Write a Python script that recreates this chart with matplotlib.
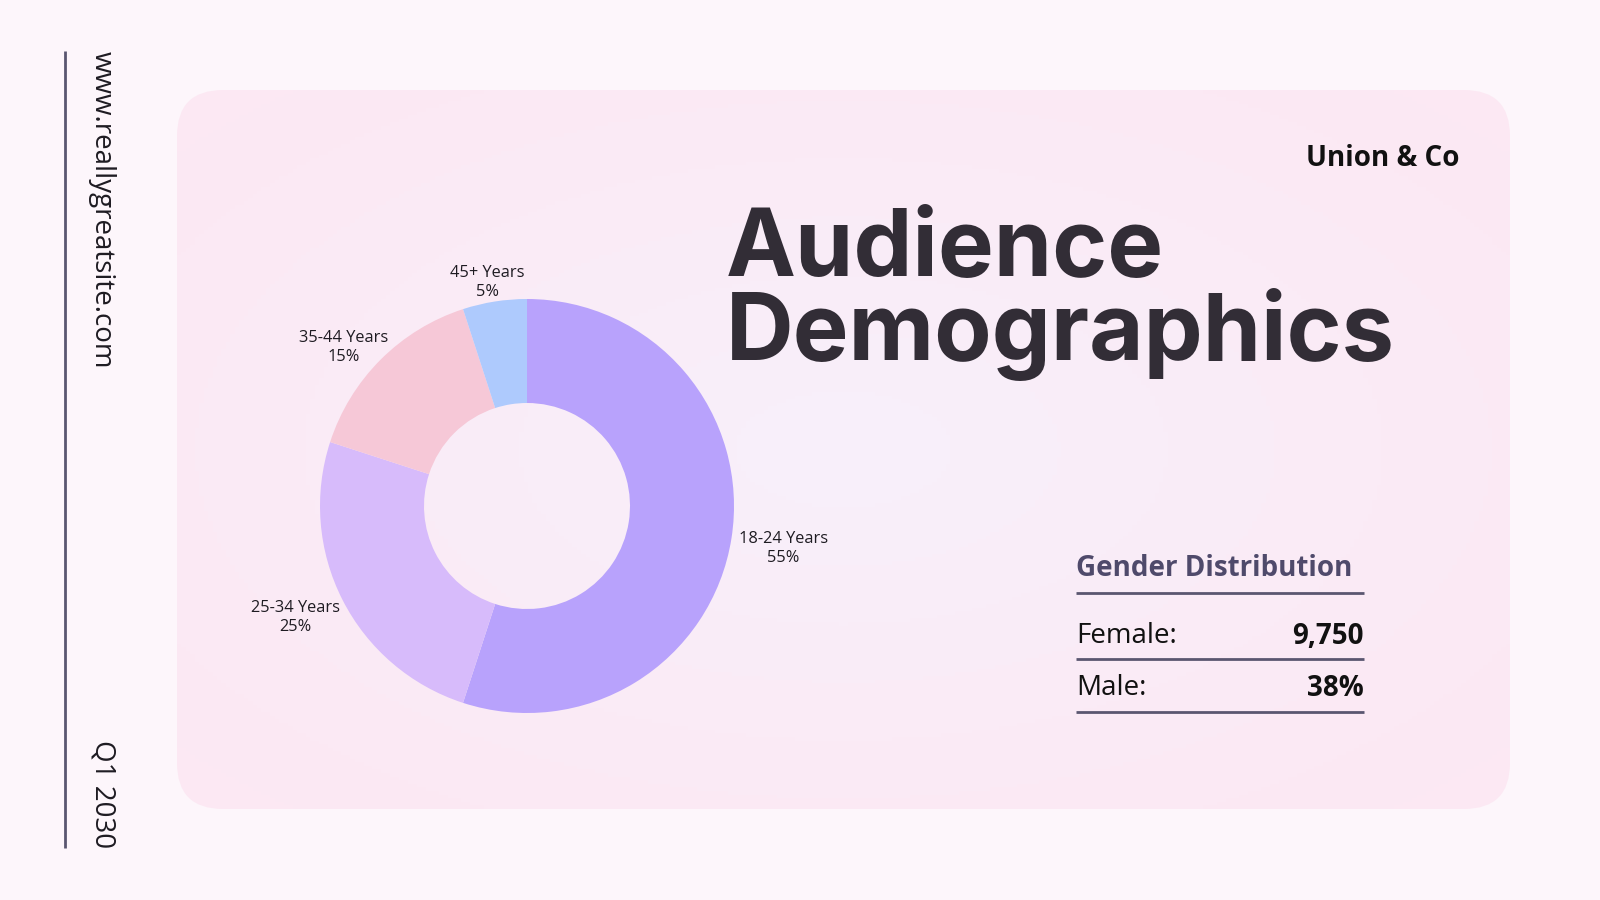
import numpy as np
import matplotlib
matplotlib.use("Agg")
import matplotlib.pyplot as plt
from matplotlib.patches import FancyBboxPatch

# data
age_groups = ["18-24 Years", "25-34 Years", "35-44 Years", "45+ Years"]
age_share = [55, 25, 15, 5]
age_colors = ["#b8a2fc", "#d7bbfb", "#f6c8d7", "#aecafd"]

gender_labels = ["Female:", "Male:"]
gender_values = ["9,750", "38%"]

W, H = 1600, 900
dark = "#322d36"
line_col = "#5a5670"

fig = plt.figure(figsize=(16, 9), dpi=100)
fig.patch.set_facecolor("#fdf6fb")
ax = fig.add_axes([0, 0, 1, 1])
ax.set_facecolor("#fdf6fb")


def fy(y):
    # pixel y from top -> axis y from bottom
    return H - y


# card with soft gradient
cx0, cy0, cx1, cy1 = 177, 90, 1510, 809
card = FancyBboxPatch((cx0, fy(cy1)), cx1 - cx0, cy1 - cy0,
                      boxstyle="round,pad=0,rounding_size=46",
                      facecolor="none", edgecolor="none", zorder=1)
ax.add_patch(card)
gx, gy = np.meshgrid(np.linspace(-1, 1, 300), np.linspace(-1, 1, 200))
rr = np.clip(np.sqrt(gx ** 2 + gy ** 2) / 1.3, 0, 1)
c_in = np.array([248, 240, 251]) / 255
c_out = np.array([252, 232, 243]) / 255
grad = c_in[None, None, :] * (1 - rr[..., None]) + c_out[None, None, :] * rr[..., None]
im = ax.imshow(grad, extent=(cx0, cx1, fy(cy1), fy(cy0)), zorder=1, aspect="auto")
im.set_clip_path(card)

# side line and vertical texts
ax.plot([65, 65], [fy(51), fy(848)], color=line_col, lw=2, solid_capstyle="butt", zorder=2)
ax.text(102, fy(51), "www.reallygreatsite.com", rotation=-90, ha="center", va="top",
        fontsize=20, family="Open Sans", color="#1e1b22", zorder=3)
ax.text(102, fy(848), "Q1 2030", rotation=-90, ha="center", va="bottom",
        fontsize=20, family="Open Sans", color="#1e1b22", zorder=3)

# brand + title
ax.text(1459, fy(159), "Union & Co", ha="right", va="center", fontsize=20,
        fontweight="bold", family="Open Sans", color="#111111", zorder=3)
ax.text(726, fy(360), "Audience\nDemographics", ha="left", va="baseline", fontsize=67.5,
        fontweight="bold", family="Inter", color=dark, linespacing=0.905, zorder=3)

# donut
pc = (527, fy(506))
R = 207
wedges, _ = ax.pie(age_share, colors=age_colors, startangle=90, counterclock=False,
                   radius=R, center=pc, frame=True,
                   wedgeprops=dict(width=104, edgecolor="none"))
for w in wedges:
    w.set_zorder(3)

ax.set_xlim(0, W)
ax.set_ylim(0, H)
ax.set_aspect("auto")
ax.axis("off")

renderer = fig.canvas.get_renderer()
for w, name, pct in zip(wedges, age_groups, age_share):
    ang = np.deg2rad((w.theta1 + w.theta2) / 2)
    c, s = np.cos(ang), np.sin(ang)
    t = ax.text(0, 0, f"{name}\n{pct}%", ha="center", va="center", multialignment="center",
                fontsize=11.8, family="Open Sans", color="#1e1b22", linespacing=1.25, zorder=4)
    bb = t.get_window_extent(renderer)
    px = pc[0] + c * R * 1.04 + c * bb.width / 2
    py = pc[1] + s * R * 1.04 + s * bb.height / 2 - 6
    t.set_position((px, py))

# gender table
tx0, tx1 = 1076, 1364
ax.text(tx0, fy(569), "Gender Distribution", ha="left", va="center", fontsize=20,
        fontweight="bold", family="Open Sans", color="#4f4a6b", zorder=3)
rows_y = [636, 688]
for y, lab, val in zip(rows_y, gender_labels, gender_values):
    ax.text(tx0, fy(y), lab, ha="left", va="center", fontsize=20,
            family="Open Sans", color="#111111", zorder=3)
    ax.text(tx1, fy(y), val, ha="right", va="center", fontsize=20,
            fontweight="bold", family="Open Sans", color="#111111", zorder=3)
for y in [593, 659, 712]:
    ax.plot([tx0, tx1], [fy(y), fy(y)], color=line_col, lw=2, solid_capstyle="butt", zorder=3)

fig.savefig("out.png", dpi=100, facecolor=fig.get_facecolor())
